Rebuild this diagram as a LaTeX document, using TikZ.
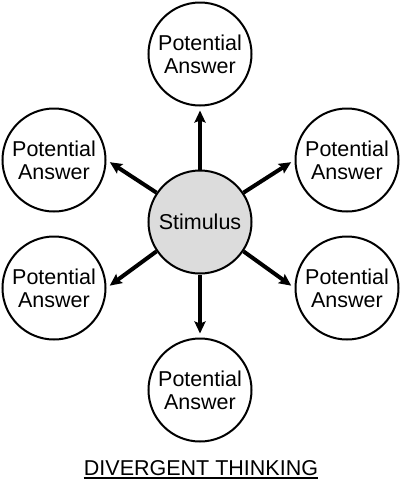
\documentclass[tikz,border=0pt]{standalone}
\usepackage{fontspec}
\setmainfont{Liberation Sans}
\usetikzlibrary{arrows.meta}
\definecolor{stimgray}{HTML}{DCDCDC}
\begin{document}
\begin{tikzpicture}[x=1pt,y=-1pt,
  answer/.style={circle,draw=black,line width=2pt,fill=white,inner sep=0pt,minimum size=103pt,
    align=center,font=\fontsize{21.5}{23}\selectfont},
  stim/.style={answer,fill=stimgray},
  conn/.style={line width=4pt,-{Stealth[length=12pt,width=11pt,inset=2pt]},shorten >=4pt}]
\useasboundingbox (0,0) rectangle (402,480);
\node[stim] (s) at (200,222) {Stimulus};
\node[answer] (t) at (200,54) {Potential\\Answer};
\node[answer] (ul) at (54,160) {Potential\\Answer};
\node[answer] (ur) at (347,160) {Potential\\Answer};
\node[answer] (ll) at (54,288) {Potential\\Answer};
\node[answer] (lr) at (347,288) {Potential\\Answer};
\node[answer] (b) at (200,390) {Potential\\Answer};
\draw[conn] (s) -- (t);
\draw[conn] (s) -- (b);
\draw[conn] (s.146) -- (ul.east);
\draw[conn] (s.34) -- (ur.west);
\draw[conn] (s.214) -- (ll.east);
\draw[conn] (s.-34) -- (lr.west);
\node[inner sep=0pt,anchor=base,font=\fontsize{21.5}{23}\selectfont] (title) at (201,475) {DIVERGENT THINKING};
\draw[line width=1.5pt] ([yshift=-3pt]title.base west) -- ([yshift=-3pt]title.base east);
\end{tikzpicture}
\end{document}
